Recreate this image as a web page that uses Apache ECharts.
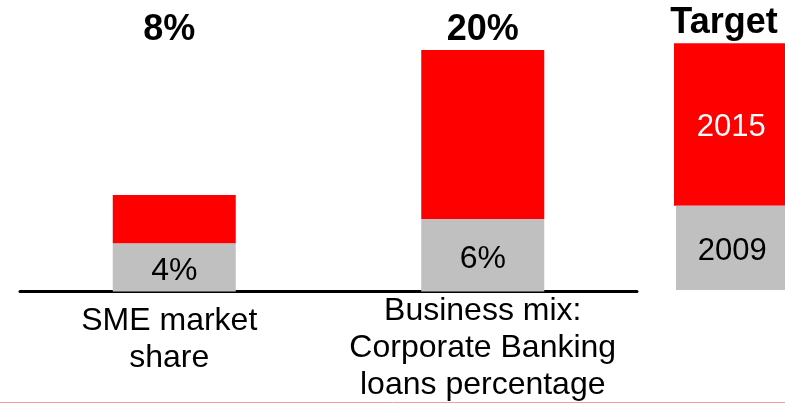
<!DOCTYPE html>
<html>
<head>
<meta charset="utf-8">
<script src="https://cdn.jsdelivr.net/npm/echarts@6/dist/echarts.min.js"></script>
<style>
  html, body { margin: 0; padding: 0; background: #ffffff; }
  #chart { width: 785px; height: 404px; }
</style>
</head>
<body>
<div id="chart"></div>
<script>
// Categories shown under the axis
var categories = ['SME market\nshare', 'Business mix:\nCorporate Banking\nloans percentage'];
// 2009 actual level (%)
var values2009 = [4, 6];
// 2015 target level (%)
var values2015 = [8, 20];
// Legend names
var seriesNames = ['2015', '2009'];

var FONT = '"Liberation Sans", Arial, sans-serif';
var RED = '#ff0000';
var GREY = '#c0c0c0';

// Red segment = growth from 2009 to 2015 target
var increments = values2015.map(function (v, i) { return v - values2009[i]; });

var chart = echarts.init(document.getElementById('chart'), null, { renderer: 'canvas' });

chart.setOption({
  animation: false,
  backgroundColor: '#ffffff',
  grid: { left: 20, right: 148, top: 50, bottom: 112, containLabel: false },
  xAxis: [
    {
      type: 'category',
      data: categories.map(function (c, i) {
        // The two-line label sits a little lower and to the left
        return i === 0 ? { value: c, textStyle: { padding: [10, 10, 0, 0] } } : c;
      }),
      offset: 1.5,
      axisLine: { show: true, lineStyle: { color: '#000000', width: 3 } },
      axisTick: { show: false },
      axisLabel: {
        interval: 0,
        margin: 0,
        color: '#000000',
        fontFamily: FONT,
        fontSize: 32,
        lineHeight: 37
      }
    },
    {
      // Totals shown above the bars
      type: 'category',
      position: 'top',
      data: values2015.map(function (v, i) {
        var t = v + '%';
        return i === 0 ? { value: t, textStyle: { padding: [0, 10, 0, 0] } } : t;
      }),
      axisLine: { show: false },
      axisTick: { show: false },
      axisLabel: {
        interval: 0,
        margin: 2,
        color: '#000000',
        fontFamily: FONT,
        fontWeight: 'bold',
        fontSize: 36,
        lineHeight: 36
      }
    }
  ],
  yAxis: { type: 'value', min: 0, max: 20, show: false, splitLine: { show: false } },
  series: [
    {
      name: seriesNames[1],
      type: 'bar',
      stack: 'total',
      xAxisIndex: 0,
      barWidth: 123,
      itemStyle: { color: GREY },
      label: {
        show: true,
        position: 'inside',
        offset: [0, 4],
        color: '#000000',
        fontFamily: FONT,
        fontSize: 32,
        formatter: function (p) { return p.value + '%'; }
      },
      data: values2009
    },
    {
      name: seriesNames[0],
      type: 'bar',
      stack: 'total',
      xAxisIndex: 0,
      barWidth: 123,
      itemStyle: { color: RED },
      data: increments
    }
  ],
  graphic: [
    // Legend heading
    {
      type: 'text', x: 724, y: 23.4,
      style: { text: 'Target', fill: '#000000', font: 'bold 36px ' + FONT, textAlign: 'center', textVerticalAlign: 'middle' }
    },
    // 2015 key
    { type: 'rect', shape: { x: 674, y: 43.3, width: 111, height: 162.4 }, style: { fill: RED } },
    {
      type: 'text', x: 731.3, y: 127.3,
      style: { text: seriesNames[0], fill: '#ffffff', font: '31px ' + FONT, textAlign: 'center', textVerticalAlign: 'middle' }
    },
    // 2009 key
    { type: 'rect', shape: { x: 676, y: 205.7, width: 109, height: 84.3 }, style: { fill: GREY } },
    {
      type: 'text', x: 732.3, y: 251,
      style: { text: seriesNames[1], fill: '#000000', font: '31px ' + FONT, textAlign: 'center', textVerticalAlign: 'middle' }
    },
    // Thin page rule at the bottom
    {
      type: 'line', shape: { x1: 0, y1: 402.5, x2: 785, y2: 402.5 },
      style: { stroke: '#ef9f9f', lineWidth: 1 }
    }
  ]
});
</script>
</body>
</html>
